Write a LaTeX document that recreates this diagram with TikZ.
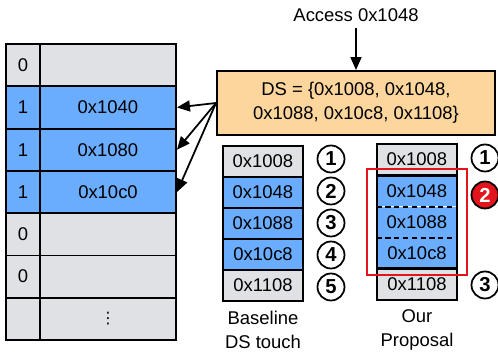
\documentclass[tikz,border=0pt]{standalone}
\usepackage{fontspec}
\setmainfont{Liberation Sans}
\newfontfamily\dotsfont{DejaVu Sans}
\usetikzlibrary{arrows.meta}

\definecolor{cellgray}{HTML}{DFE1E5}
\definecolor{cellblue}{HTML}{6AADFF}
\definecolor{dsorange}{HTML}{FCD69C}
\definecolor{markred}{HTML}{E3141C}

\tikzset{
  cell/.style={draw,line width=1.1pt,inner sep=0pt},
  step num/.style={circle,draw,line width=1pt,minimum size=0.54cm,inner sep=0pt,font=\fontsize{11.5}{13}\selectfont\bfseries},
  tip/.style={-{Triangle[length=0.26cm,width=0.22cm]},line width=1pt}
}

\begin{document}
\begin{tikzpicture}[x=0.02cm,y=-0.02cm,font=\fontsize{10.5}{13.5}\selectfont]
\useasboundingbox (0,0) rectangle (498,354);
% left table
\foreach \i/\b/\a/\c in {1/0//cellgray,2/1/0x1040/cellblue,3/1/0x1080/cellblue,4/1/0x10c0/cellblue,5/0//cellgray,6/0//cellgray,7//{\dotsfont\small ⋮}/cellgray}{
  \node[cell,fill=\c,minimum width=34*0.02cm,minimum height=42.3*0.02cm] (bit\i) at (23,{65.15+(\i-1)*42.3}) {\b};
  \node[cell,fill=\c,minimum width=136*0.02cm,minimum height=42.3*0.02cm] (addr\i) at (108,{65.15+(\i-1)*42.3}) {\a};
}
% DS box
\node[cell,fill=dsorange,minimum width=278*0.02cm,minimum height=64*0.02cm,align=center] (ds) at (356,103) {DS = \{0x1008, 0x1048,\\0x1088, 0x10c8, 0x1108\}};
\node (access) at (356,15) {Access 0x1048};
\draw[tip] (access.south) -- (ds.north);
\draw[tip] (ds.west) -- (addr2.east);
\draw[tip] (ds.west) -- (addr3.east);
\draw[tip] (ds.west) -- (addr4.east);
% baseline
\foreach \i/\a/\c in {1/0x1008/cellgray,2/0x1048/cellblue,3/0x1088/cellblue,4/0x10c8/cellblue,5/0x1108/cellgray}{
  \node[cell,fill=\c,minimum width=80*0.02cm,minimum height=31*0.02cm] (base\i) at (263,{161.5+(\i-1)*31}) {\a};
  \node[step num] (bnum\i) at (331,{159+(\i-1)*32}) {\i};
}
\node[align=center] (baselbl) at (263,330) {Baseline\\DS touch};
% our proposal
\foreach \i/\a/\c in {1/0x1008/cellgray,2/0x1048/cellblue,3/0x1088/cellblue,4/0x10c8/cellblue,5/0x1108/cellgray}{
  \node[inner sep=0pt,fill=\c,minimum width=80*0.02cm,minimum height=31.2*0.02cm] (prop\i) at (417,{159.6+(\i-1)*31.2}) {\a};
}
\draw[line width=1.1pt] (prop1.north west) rectangle (prop1.south east);
\draw[line width=1.1pt] (prop5.north west) rectangle (prop5.south east);
\draw[line width=1.1pt] (prop2.north west) rectangle (prop4.south east);
\draw[white,line width=0.6pt] (prop2.south west) -- (prop2.south east);
\draw[line width=1.1pt,dash pattern=on 3pt off 2pt] (prop2.south west) -- (prop2.south east);
\draw[line width=1.1pt,dash pattern=on 3pt off 2pt] (prop3.south west) -- (prop3.south east);
\draw[markred,line width=1pt] (367,169) rectangle (467,275);
\node[step num] (pnum1) at (485,158) {1};
\node[step num,fill=markred,text=white] (pnum2) at (485,195) {2};
\node[step num] (pnum3) at (485,285) {3};
\node[align=center] (proplbl) at (417,330) {Our\\Proposal};
\end{tikzpicture}
\end{document}
